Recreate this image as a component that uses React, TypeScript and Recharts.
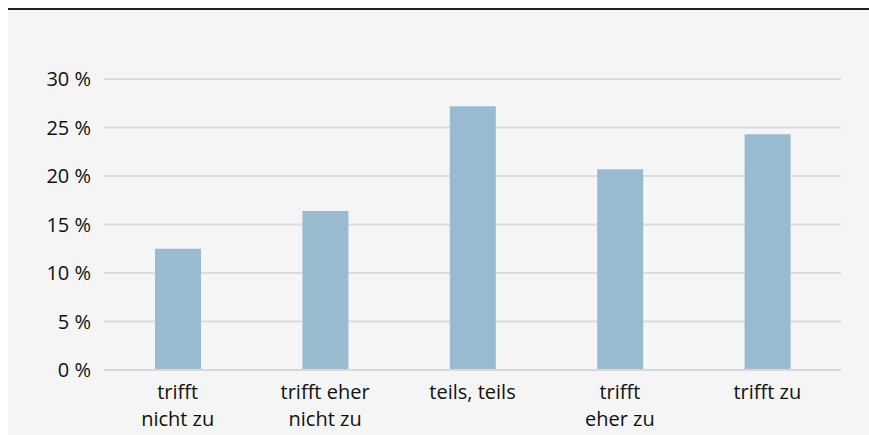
import React from 'react';
import { BarChart, Bar, XAxis, YAxis, CartesianGrid } from 'recharts';

const categories = ['trifft\nnicht zu', 'trifft eher\nnicht zu', 'teils, teils', 'trifft\neher zu', 'trifft zu'];
const shares = [12.5, 16.4, 27.2, 20.7, 24.3];
const yTicks = [0, 5, 10, 15, 20, 25, 30];

const data = categories.map((name, i) => ({ name, value: shares[i] }));

const FONT = '"Open Sans", "Noto Sans", sans-serif';
const TEXT = '#111';

// multi-line category labels
function CategoryTick(props: any) {
	const { x, y, payload } = props;
	const lines = String(payload.value).split('\n');
	return (
		<text x={x} y={y} textAnchor="middle" fill={TEXT} fontSize={20} fontFamily={FONT}>
			{lines.map((line: string, i: number) => (
				<tspan key={i} x={x} dy={i === 0 ? 21 : 26.5}>
					{line}
				</tspan>
			))}
		</text>
	);
}

export default function App() {
	return (
		<div
			style={{
				position: 'fixed',
				left: 8,
				top: 8,
				right: 0,
				bottom: 0,
				overflow: 'hidden',
				background: '#f5f5f5',
				borderTop: '2px solid #222',
			}}
		>
			<BarChart
				width={861}
				height={425}
				data={data}
				margin={{ top: 69, right: 28, left: 0, bottom: 0 }}
			>
				<CartesianGrid vertical={false} stroke="#dcdcdc" strokeWidth={2} />
				<XAxis
					dataKey="name"
					height={65}
					tickLine={false}
					axisLine={{ stroke: '#d8d8d8', strokeWidth: 2 }}
					tick={<CategoryTick />}
					interval={0}
				/>
				<YAxis
					width={96}
					domain={[0, 30]}
					ticks={yTicks}
					tickFormatter={(v: number) => `${v} %`}
					tickLine={false}
					axisLine={false}
					tickSize={0}
					tickMargin={13}
					tick={{ fill: TEXT, fontSize: 20, fontFamily: FONT }}
				/>
				<Bar dataKey="value" fill="#99bbd0" barSize={46} isAnimationActive={false} />
			</BarChart>
		</div>
	);
}
